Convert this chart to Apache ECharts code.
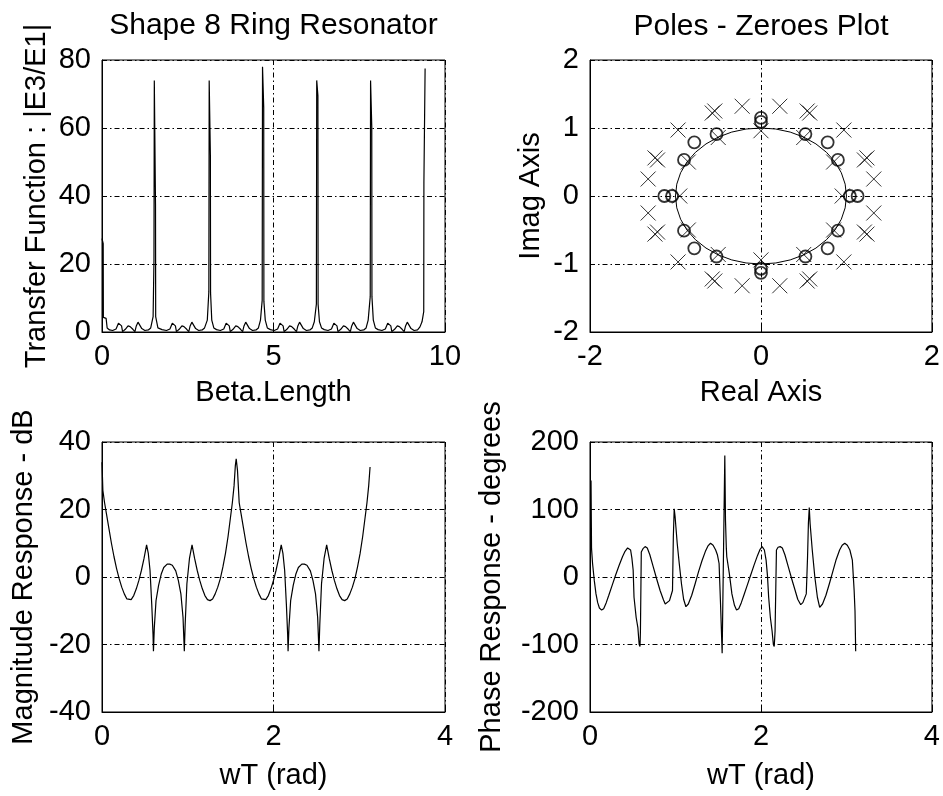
<!DOCTYPE html>
<html><head><meta charset="utf-8">
<script src="https://cdn.jsdelivr.net/npm/echarts@6/dist/echarts.min.js"></script>
<style>html,body{margin:0;padding:0;background:#fff}#c{width:943px;height:796px}</style>
</head><body><div id="c"></div>
<script>
// ---- Data ----
const titles = ['Shape 8 Ring Resonator', 'Poles - Zeroes Plot'];
const xNames = ['Beta.Length', 'Real Axis', 'wT (rad)', 'wT (rad)'];
const yNames = ['Transfer Function : |E3/E1|', 'Imag Axis', 'Magnitude Response - dB', 'Phase Response - degrees'];

// Top-left: |E3/E1| vs Beta.Length  [x, y]
const transferPoints = [
 [0,27.5],[0.035,26],[0.04,4.3],[0.12,4.0],[0.15,1.2],[0.22,0.6],[0.31,0.45],[0.41,0.9],[0.48,2.6],[0.53,3.0],[0.57,1.8],[0.60,0.1],[0.68,0.8],[0.76,1.8],[0.82,1.6],[0.90,0.8],[0.96,0.1],[1.00,1.8],[1.05,2.9],[1.10,2.4],[1.16,1.0],[1.25,0.45],[1.35,0.6],[1.42,1.2],[1.49,4.5],[1.515,21],[1.525,74],[1.56,37.5],[1.565,4.5],[1.63,1.2],
 [1.75,0.7],[1.88,0.45],[1.98,0.9],[2.05,2.6],[2.10,3.0],[2.14,1.8],[2.17,0.1],[2.25,0.8],[2.33,1.8],[2.39,1.6],[2.47,0.8],[2.53,0.1],[2.57,1.8],[2.62,2.9],[2.67,2.4],[2.73,1.0],[2.82,0.45],[2.92,0.6],[2.99,1.2],[3.07,3.5],[3.115,11.8],[3.125,74],[3.16,52],[3.165,11.5],[3.20,3.5],[3.26,1.2],
 [3.34,0.7],[3.45,0.45],[3.55,0.9],[3.62,2.6],[3.67,3.0],[3.71,1.8],[3.74,0.1],[3.82,0.8],[3.90,1.8],[3.96,1.6],[4.04,0.8],[4.10,0.1],[4.14,1.8],[4.19,2.9],[4.24,2.4],[4.30,1.0],[4.39,0.45],[4.49,0.6],[4.56,1.2],[4.62,3.5],[4.67,9.3],[4.68,78],[4.715,66],[4.72,9.0],[4.76,3.5],[4.82,1.2],
 [4.91,0.7],[5.02,0.45],[5.12,0.9],[5.19,2.6],[5.24,3.0],[5.28,1.8],[5.31,0.1],[5.39,0.8],[5.47,1.8],[5.53,1.6],[5.61,0.8],[5.67,0.1],[5.71,1.8],[5.76,2.9],[5.81,2.4],[5.87,1.0],[5.96,0.45],[6.06,0.6],[6.13,1.2],[6.19,3.0],[6.25,8.2],[6.26,74],[6.295,69.5],[6.30,8.2],[6.34,3.0],[6.40,1.2],
 [6.48,0.7],[6.59,0.45],[6.69,0.9],[6.76,2.6],[6.81,3.0],[6.85,1.8],[6.88,0.1],[6.96,0.8],[7.04,1.8],[7.10,1.6],[7.18,0.8],[7.24,0.1],[7.28,1.8],[7.33,2.9],[7.38,2.4],[7.44,1.0],[7.53,0.45],[7.63,0.6],[7.70,1.2],[7.76,3.5],[7.82,10.4],[7.83,74],[7.865,60.5],[7.87,10.4],[7.91,3.5],[7.97,1.2],
 [8.05,0.7],[8.16,0.45],[8.26,0.9],[8.33,2.6],[8.38,3.0],[8.42,1.8],[8.45,0.1],[8.53,0.8],[8.61,1.8],[8.67,1.6],[8.75,0.8],[8.81,0.1],[8.85,1.8],[8.90,2.9],[8.95,2.4],[9.01,1.0],[9.10,0.45],[9.20,0.6],[9.27,1.5],[9.33,3.0],[9.38,6.0],[9.385,44],[9.415,44.5],[9.42,77.5]
];

// Top-right: unit circle, zeros (o) and poles (x)
const unitCircle = [
 [1,0],[0.985,0.174],[0.940,0.342],[0.866,0.5],[0.766,0.643],[0.643,0.766],[0.5,0.866],[0.342,0.940],[0.174,0.985],[0,1],
 [-0.174,0.985],[-0.342,0.940],[-0.5,0.866],[-0.643,0.766],[-0.766,0.643],[-0.866,0.5],[-0.940,0.342],[-0.985,0.174],[-1,0],
 [-0.985,-0.174],[-0.940,-0.342],[-0.866,-0.5],[-0.766,-0.643],[-0.643,-0.766],[-0.5,-0.866],[-0.342,-0.940],[-0.174,-0.985],[0,-1],
 [0.174,-0.985],[0.342,-0.940],[0.5,-0.866],[0.643,-0.766],[0.766,-0.643],[0.866,-0.5],[0.940,-0.342],[0.985,-0.174],[1,0]
];
const zeros = [
 [1.04,0],[1.13,0],[-1.04,0],[-1.13,0],
 [0,1.09],[0,1.15],[0,-1.07],[0,-1.13],
 [0.52,0.91],[0.78,0.79],[0.90,0.53],
 [-0.52,0.91],[-0.78,0.79],[-0.90,0.53],
 [0.52,-0.89],[0.78,-0.77],[0.90,-0.51],
 [-0.52,-0.89],[-0.78,-0.77],[-0.90,-0.51]
];
const poles = [
 [0.22,1.32],[-0.22,1.32],[0.22,-1.32],[-0.22,-1.32],
 [0.54,1.25],[0.57,1.22],[-0.54,1.25],[-0.57,1.22],[0.54,-1.25],[0.57,-1.22],[-0.54,-1.25],[-0.57,-1.22],
 [0.97,0.97],[-0.97,0.97],[0.97,-0.97],[-0.97,-0.97],
 [1.24,0.56],[1.21,0.53],[-1.24,0.56],[-1.21,0.53],[1.24,-0.56],[1.21,-0.53],[-1.24,-0.56],[-1.21,-0.53],
 [1.32,0.25],[-1.32,0.25],[1.32,-0.25],[-1.32,-0.25],
 [0.95,0],[-0.95,0],[0,0.96],[0,-0.94],
 [0.50,0.86],[-0.50,0.86],[0.50,-0.86],[-0.50,-0.86],
 [0.85,0.50],[-0.85,0.50],[0.85,-0.50],[-0.85,-0.50]
];

// Bottom-left: magnitude response (dB) vs wT
const magnitudePoints = [
 [0,34],[0.01,25.7],[0.03,22],[0.05,19],[0.08,14.5],[0.11,10],[0.14,6],[0.17,2.5],[0.20,-0.5],[0.23,-3],
 [0.26,-5],[0.29,-6.5],[0.31,-7],[0.34,-6.7],[0.37,-5.5],[0.40,-3.5],[0.43,-1],[0.46,2],[0.49,5.5],[0.52,9.5],
 [0.54,7],[0.56,2],[0.58,-8],[0.595,-17],[0.60,-22],[0.61,-15],[0.63,-7],[0.66,-2.5],[0.69,0.8],[0.72,2.8],
 [0.76,3.8],[0.79,3.8],[0.82,3.5],[0.86,1.8],[0.89,-1],[0.92,-5],[0.945,-12],[0.96,-22],[0.97,-14],[0.99,-2],
 [1.02,5.5],[1.05,9.5],[1.08,5.5],[1.11,2],[1.14,-1],[1.17,-3.5],[1.20,-5.5],[1.23,-6.7],[1.26,-7],[1.29,-6.5],
 [1.32,-5],[1.35,-3],[1.38,-0.5],[1.41,3],[1.44,7],[1.47,12],[1.50,18],[1.52,22],[1.54,27],[1.555,33],[1.565,35],
 [1.58,31.6],[1.60,22],[1.62,19],[1.65,14.5],[1.68,10],[1.71,6],[1.74,2.5],[1.77,-0.5],[1.80,-3],[1.83,-5],
 [1.86,-6.5],[1.88,-7],[1.91,-6.7],[1.94,-5.5],[1.97,-3.5],[2.00,-1],[2.03,2],[2.06,5.5],[2.09,9.5],[2.11,7],
 [2.13,2],[2.15,-8],[2.165,-17],[2.17,-22],[2.18,-15],[2.20,-7],[2.23,-2.5],[2.26,0.8],[2.29,2.8],[2.33,3.8],
 [2.36,3.8],[2.39,3.5],[2.43,1.8],[2.46,-1],[2.49,-5],[2.515,-12],[2.53,-22],[2.54,-14],[2.56,-2],[2.59,5.5],
 [2.62,9.5],[2.65,5.5],[2.68,2],[2.71,-1],[2.74,-3.5],[2.77,-5.5],[2.80,-6.7],[2.83,-7],[2.86,-6.5],[2.89,-5],
 [2.92,-3],[2.95,-0.5],[2.98,3],[3.01,7],[3.04,12],[3.07,18],[3.09,22],[3.11,27],[3.126,32.6]
];

// Bottom-right: phase response (degrees) vs wT
const phasePoints = [
 [0.012,143],[0.018,42],[0.03,20],[0.05,-5],[0.07,-25],[0.09,-38],[0.11,-46],[0.136,-49],[0.16,-47],[0.19,-38],
 [0.22,-27],[0.26,-12],[0.30,3],[0.34,17],[0.38,30],[0.41,38],[0.44,43],[0.456,44],[0.475,40],[0.49,28],
 [0.505,10],[0.515,-30],[0.54,-60],[0.56,-75],[0.575,-100],[0.585,-103],[0.59,-80],[0.60,37],[0.62,42],[0.645,45],
 [0.67,43],[0.70,33],[0.74,15],[0.78,-3],[0.82,-20],[0.86,-34],[0.88,-40],[0.90,-42],[0.93,-35],[0.965,-20],
 [0.975,60],[0.985,101],[0.995,90],[1.005,74],[1.02,50],[1.044,20],[1.07,-10],[1.095,-33],[1.122,-44],[1.15,-40],
 [1.19,-27],[1.23,-10],[1.27,8],[1.31,24],[1.35,38],[1.38,46],[1.41,50],[1.44,47],[1.47,40],[1.49,33],
 [1.51,20],[1.527,-40],[1.546,-113],[1.577,180],[1.585,84],[1.595,42],[1.60,30],[1.63,5],[1.66,-25],[1.69,-42],
 [1.714,-49],[1.74,-47],[1.77,-38],[1.80,-27],[1.84,-12],[1.88,3],[1.92,18],[1.96,32],[1.99,41],[2.014,45],
 [2.04,40],[2.06,25],[2.076,2],[2.09,-30],[2.11,-60],[2.13,-80],[2.145,-100],[2.155,-103],[2.165,-80],[2.181,40],
 [2.2,44],[2.225,45],[2.25,43],[2.28,33],[2.32,15],[2.36,-3],[2.40,-20],[2.43,-33],[2.465,-41],[2.49,-38],
 [2.53,-25],[2.545,30],[2.555,80],[2.565,103],[2.575,79],[2.6,40],[2.63,0],[2.66,-30],[2.687,-45],[2.72,-40],
 [2.76,-27],[2.80,-10],[2.84,8],[2.88,26],[2.92,40],[2.95,47],[2.98,50],[3.01,47],[3.04,40],[3.069,25],
 [3.09,-20],[3.1,-50],[3.108,-110]
];

// Axis ranges / ticks
const xRanges = [[0,10,5],[-2,2,2],[0,4,2],[0,4,2]];
const yRanges = [[0,80,20],[-2,2,1],[-40,40,20],[-200,200,100]];

// ---- Layout / style ----
const FONT = '"Liberation Sans", Arial, Helvetica, sans-serif';
const FS = 29;
const grids = [
  {left:102, top:60, width:343, height:272},
  {left:590, top:60, width:342, height:272},
  {left:102, top:442, width:343, height:270},
  {left:590, top:442, width:342, height:270}
];
const xNameGap = [46, 46, 49, 49];
const yNameGap = [51, 45, 64, 84];
const gridLineStyle = {color:'#000', width:1, type:[5,3,1.5,3]};
const textStyle = {fontFamily:FONT, fontSize:FS, color:'#000'};
const titleStyle = {fontFamily:FONT, fontSize:30, color:'#000', fontWeight:'normal'};

const option = {
  animation: false,
  backgroundColor: '#fff',
  title: [
    {text: titles[0], left: 273.5, top: 11, textAlign:'center', padding:0, textStyle:titleStyle},
    {text: titles[1], left: 761, top: 12, textAlign:'center', padding:0, textStyle:titleStyle}
  ],
  grid: grids.map(g => Object.assign({show:true, borderColor:'#000', borderWidth:1, backgroundColor:'transparent'}, g)),
  xAxis: xRanges.map((r, i) => ({
    type:'value', gridIndex:i, min:r[0], max:r[1], interval:r[2],
    name:xNames[i], nameLocation:'middle', nameGap:xNameGap[i], nameTextStyle:textStyle,
    axisLine:{show:true, onZero:false, lineStyle:{color:'#000'}},
    axisTick:{show:true, inside:true, length:5, lineStyle:{color:'#000'}},
    axisLabel:Object.assign({margin:10}, textStyle),
    splitLine:{show:true, lineStyle:gridLineStyle}
  })),
  yAxis: yRanges.map((r, i) => ({
    type:'value', gridIndex:i, min:r[0], max:r[1], interval:r[2],
    name:yNames[i], nameLocation:'middle', nameGap:yNameGap[i], nameTextStyle:textStyle,
    axisLine:{show:true, onZero:false, lineStyle:{color:'#000'}},
    axisTick:{show:true, inside:true, length:5, lineStyle:{color:'#000'}},
    axisLabel:Object.assign({margin:11}, textStyle),
    splitLine:{show:true, lineStyle:gridLineStyle}
  })),
  series: [
    {type:'line', xAxisIndex:0, yAxisIndex:0, data:transferPoints, showSymbol:false,
     lineStyle:{color:'#000', width:1.2}},
    {type:'line', xAxisIndex:1, yAxisIndex:1, data:unitCircle, showSymbol:false,
     lineStyle:{color:'#000', width:1}},
    {type:'scatter', xAxisIndex:1, yAxisIndex:1, data:zeros, symbol:'circle', symbolSize:12,
     itemStyle:{color:'rgba(0,0,0,0)', borderColor:'#000', borderWidth:1.8}},
    {type:'scatter', xAxisIndex:1, yAxisIndex:1, data:poles, symbol:'path://M0,0L10,10M10,0L0,10', symbolSize:15,
     itemStyle:{color:'rgba(0,0,0,0)', borderColor:'#000', borderWidth:1}},
    {type:'line', xAxisIndex:2, yAxisIndex:2, data:magnitudePoints, showSymbol:false,
     lineStyle:{color:'#000', width:1.2}},
    {type:'line', xAxisIndex:3, yAxisIndex:3, data:phasePoints, showSymbol:false,
     lineStyle:{color:'#000', width:1.2}}
  ]
};
const chart = echarts.init(document.getElementById('c'), null, {renderer:'canvas'});
chart.setOption(option);
</script>
</body></html>
